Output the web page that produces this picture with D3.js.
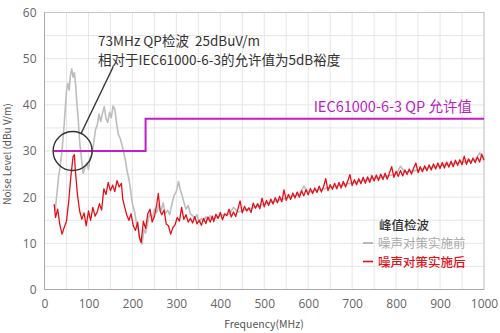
<!DOCTYPE html>
<html>
<head>
<meta charset="utf-8">
<style>
  body { margin: 0; background: #fff; }
  svg { display: block; font-family: "Noto Sans CJK SC", "Noto Sans", sans-serif; }
</style>
</head>
<body>
<svg width="500" height="333"></svg>
<script src="https://cdn.jsdelivr.net/npm/d3@7/dist/d3.min.js"></script>
<script>
// peak-detector scans, [MHz, dBuV/m]
var beforeScan = [
  [24,17.0],[28,20.5],[32,24.4],[36,27.0],[40,30.2],[45,36.0],[50,43.0],[53,44.6],[56,43.2],[59,46.4],
  [62,47.8],[65,46.0],[68,47.0],[71,44.2],[74,40.0],[77,36.5],[80,32.0],[84,28.4],[88,25.2],[92,26.4],
  [96,27.4],[100,26.0],[104,28.6],[108,29.4],[112,31.8],[116,34.6],[120,35.6],[124,38.0],[128,36.4],[132,38.2],
  [136,39.6],[140,37.0],[144,36.2],[148,38.4],[152,37.2],[156,39.8],[160,39.0],[164,36.0],[168,33.6],[172,32.8],
  [176,31.4],[180,29.8],[184,28.0],[188,25.6],[192,24.0],[196,21.4],[200,18.6],[205,16.8],[210,14.0],[214,12.6],
  [218,10.6],[222,9.8],[226,13.0],[230,12.2],[235,14.6],[240,16.6],[245,15.4],[250,17.4],[255,16.6],[260,18.4],
  [265,17.0],[270,18.8],[275,16.4],[280,17.2],[285,16.2],[290,18.6],[295,20.4],[300,21.2],[305,23.4],[309,21.6],
  [313,20.4],[318,18.6],[322,17.4],[327,18.2],[332,16.4],[337,16.0],[342,15.4],[347,16.2],[352,14.6],[357,15.4],
  [362,14.8],[367,15.8],[372,15.0],[377,16.0],[382,15.2],[390,15.6],[400,16.0],[410,16.2],[420,16.3],[430,17.8],
  [440,16.8],[450,17.0],[460,17.4],[470,17.6],[480,17.9],[490,18.2],[500,18.5],[510,18.8],[520,19.0],[530,19.3],
  [540,19.5],[550,19.8],[560,20.1],[570,20.3],[580,20.6],[590,22.4],[600,21.1],[610,21.3],[620,21.5],[630,21.7],
  [640,21.9],[650,22.1],[660,22.3],[670,22.5],[680,22.7],[690,22.9],[700,23.1],[710,23.3],[720,23.5],[730,23.7],
  [740,23.9],[750,24.1],[760,24.2],[770,24.4],[780,24.6],[790,24.8],[800,25.0],[810,26.7],[820,25.4],[830,25.6],
  [840,25.7],[850,25.9],[860,26.1],[870,26.3],[880,26.5],[890,26.6],[900,26.8],[910,27.0],[920,27.1],[930,27.3],
  [940,27.4],[950,27.6],[960,27.7],[970,27.9],[980,28.0],[990,29.6],[1000,28.3]
];

var afterScan = [
  [22,18.5],[25,15.6],[30,17.4],[35,14.0],[40,12.0],[45,13.5],[50,14.8],[55,19.0],[60,24.5],[65,28.8],
  [68,29.2],[70,26.0],[75,20.5],[80,17.0],[85,15.2],[90,16.6],[95,13.8],[100,17.0],[105,15.0],[110,17.8],
  [115,15.9],[120,16.8],[125,18.6],[130,17.2],[135,21.8],[140,20.6],[145,23.2],[150,21.4],[155,22.6],[160,21.2],
  [165,23.6],[170,22.2],[175,23.0],[178,19.6],[182,18.0],[187,16.2],[192,15.0],[197,16.4],[202,13.8],[207,12.8],
  [212,14.6],[216,11.2],[220,10.2],[225,14.8],[230,13.2],[235,16.4],[240,17.4],[245,14.6],[250,15.8],[255,18.2],
  [259,20.8],[263,17.0],[267,16.2],[272,17.2],[277,14.2],[282,13.8],[287,12.0],[292,13.4],[297,14.0],[302,15.6],
  [307,14.8],[312,17.8],[317,15.2],[322,16.2],[327,14.6],[332,15.4],[337,14.4],[342,15.8],[347,14.2],[352,15.0],
  [357,13.9],[362,15.4],[367,14.3],[372,15.7],[377,14.6],[382,15.9],[385,14.7],[390,16.3],[395,15.4],[400,16.7],
  [405,15.1],[410,16.4],[415,16.0],[420,17.4],[425,15.7],[430,16.8],[435,15.8],[440,17.4],[445,19.2],[450,16.6],
  [455,18.0],[460,17.0],[465,17.7],[470,16.7],[475,18.7],[480,17.6],[485,18.6],[490,17.5],[495,19.8],[500,17.9],
  [505,19.3],[510,18.2],[515,19.6],[520,18.5],[525,19.9],[530,18.8],[535,20.2],[540,19.0],[545,21.6],[550,19.3],
  [555,20.6],[560,19.5],[565,20.9],[570,19.8],[575,21.1],[580,20.0],[585,21.4],[590,20.3],[595,21.6],[600,20.5],
  [605,21.9],[610,20.8],[615,22.0],[620,21.0],[625,22.4],[630,21.1],[635,22.3],[640,24.0],[645,21.4],[650,22.7],
  [655,21.7],[660,23.0],[665,21.8],[670,23.2],[675,22.0],[680,23.4],[685,22.2],[690,23.5],[695,24.9],[700,22.5],
  [705,23.8],[710,22.7],[715,24.0],[720,22.9],[725,24.3],[730,23.0],[735,24.4],[740,23.2],[745,24.7],[750,23.5],
  [755,24.8],[760,23.6],[765,25.0],[770,23.8],[775,25.2],[780,23.9],[785,25.3],[790,26.6],[795,24.3],[800,25.6],
  [805,24.5],[810,25.8],[815,24.6],[820,25.9],[825,24.9],[830,26.1],[835,25.0],[840,26.3],[845,27.4],[850,25.3],
  [855,26.6],[860,25.5],[865,26.8],[870,25.7],[875,27.0],[880,25.9],[885,27.2],[890,26.1],[895,27.4],[900,26.2],
  [905,27.5],[910,26.3],[915,27.6],[920,26.5],[925,27.8],[930,26.6],[935,28.0],[940,26.9],[945,28.1],[950,27.0],
  [955,28.9],[960,27.1],[965,28.3],[970,27.3],[975,28.5],[980,27.5],[985,28.7],[990,27.6],[995,29.3],[1000,28.0]
];

// IEC61000-6-3 QP limit, step at 230 MHz
var limitSteps = [[20,30],[230,30],[230,37],[1000,37]];

var xTicks = [0,100,200,300,400,500,600,700,800,900,1000];
var yTicks = [0,10,20,30,40,50,60];
var xGrid = d3.range(0, 1001, 50);
var yGrid = d3.range(0, 61, 5);

var noteLines = ["73MHz QP检波  25dBuV/m", "相对于IEC61000-6-3的允许值为5dB裕度"];
var limitLabel = "IEC61000-6-3 QP 允许值";
var legendTitle = "峰值检波";
var seriesNames = ["噪声对策实施前", "噪声对策实施后"];

var svg = d3.select("svg");
var x = d3.scaleLinear().domain([0, 1000]).range([44.5, 484]);
var y = d3.scaleLinear().domain([0, 60]).range([289.5, 12.5]);

var grid = svg.append("g").attr("stroke", "#e6e6e6").attr("stroke-width", 1);
grid.selectAll(".gx").data(xGrid).enter().append("line")
  .attr("x1", d => x(d)).attr("x2", d => x(d)).attr("y1", y(0)).attr("y2", y(60));
grid.selectAll(".gy").data(yGrid).enter().append("line")
  .attr("x1", x(0)).attr("x2", x(1000)).attr("y1", d => y(d)).attr("y2", d => y(d));

// frame
svg.append("rect").attr("x", x(0)).attr("y", y(60))
  .attr("width", x(1000) - x(0)).attr("height", y(0) - y(60))
  .attr("fill", "none").attr("stroke", "#c4c4c4").attr("stroke-width", 1);
svg.append("line").attr("x1", x(0)).attr("x2", x(0)).attr("y1", y(60)).attr("y2", y(0))
  .attr("stroke", "#a8a8a8");
svg.append("line").attr("x1", x(0)).attr("x2", x(1000)).attr("y1", y(0)).attr("y2", y(0))
  .attr("stroke", "#a8a8a8");

var xAxis = svg.append("g").attr("transform", "translate(0," + y(0) + ")")
  .call(d3.axisBottom(x).tickValues(xTicks).tickFormat(d3.format("d")).tickSize(0).tickPadding(10));
var yAxis = svg.append("g").attr("transform", "translate(" + x(0) + ",0)")
  .call(d3.axisLeft(y).tickValues(yTicks).tickFormat(d3.format("d")).tickSize(0).tickPadding(8));
[xAxis, yAxis].forEach(function(a) {
  a.select(".domain").remove();
  a.selectAll("text").attr("fill", "#666").style("font-size", "12px")
    .style("font-family", "'Open Sans', 'Noto Sans', sans-serif");
});

svg.append("text").attr("x", 264).attr("y", 328).attr("text-anchor", "middle")
  .attr("fill", "#555").style("font-size", "10.5px").text("Frequency(MHz)");
svg.append("text").attr("transform", "translate(11,154) rotate(-90)").attr("text-anchor", "middle")
  .attr("fill", "#555").style("font-size", "10px").text("Noise Level (dBu V/m)");

var line = d3.line().x(d => x(d[0])).y(d => y(d[1]));

svg.append("path").datum(beforeScan).attr("fill", "none")
  .attr("stroke", "#bdbdbd").attr("stroke-width", 1.6).attr("stroke-linejoin", "round").attr("d", line);
svg.append("path").datum(afterScan).attr("fill", "none")
  .attr("stroke", "#e3101a").attr("stroke-width", 1.3).attr("stroke-linejoin", "round").attr("d", line);

svg.append("path").datum(limitSteps).attr("fill", "none")
  .attr("stroke", "#c21ec8").attr("stroke-width", 2).attr("d", line);
svg.append("text").attr("x", 472).attr("y", y(38.5)).attr("text-anchor", "end")
  .attr("fill", "#b81fc2").style("font-size", "14.5px").text(limitLabel);

// 73 MHz margin callout
var ring = { f: 64, level: 30, r: 19.5 };
var cx = x(ring.f), cy = y(ring.level);
svg.append("circle").attr("cx", cx).attr("cy", cy).attr("r", ring.r)
  .attr("fill", "none").attr("stroke", "#333").attr("stroke-width", 1.4);
var tip = [x(156), y(48.2)];
var ang = Math.atan2(tip[1] - cy, tip[0] - cx);
svg.append("line")
  .attr("x1", cx + ring.r * Math.cos(ang)).attr("y1", cy + ring.r * Math.sin(ang))
  .attr("x2", tip[0]).attr("y2", tip[1])
  .attr("stroke", "#333").attr("stroke-width", 1.4);
svg.selectAll(".note").data(noteLines).enter().append("text")
  .attr("x", x(122)).attr("y", (d, i) => 45.5 + i * 19.6)
  .style("white-space", "pre")
  .attr("fill", "#333").style("font-size", "13.5px").text(d => d);

// legend
svg.append("text").attr("x", 379).attr("y", 229.5).attr("fill", "#333")
  .style("font-size", "12.5px").style("font-weight", 500).text(legendTitle);
var legColors = ["#a9a9a9", "#e3101a"];
var leg = svg.selectAll(".leg").data(seriesNames).enter().append("g")
  .attr("transform", (d, i) => "translate(363," + (248 + i * 18.5) + ")");
leg.append("line").attr("x1", 0).attr("x2", 10).attr("y1", -5).attr("y2", -5)
  .attr("stroke", (d, i) => legColors[i]).attr("stroke-width", 1.6);
leg.append("text").attr("x", 15).attr("fill", (d, i) => legColors[i])
  .style("font-size", "12.5px").style("font-weight", (d, i) => i ? 500 : 400).text(d => d);
</script>
</body>
</html>
